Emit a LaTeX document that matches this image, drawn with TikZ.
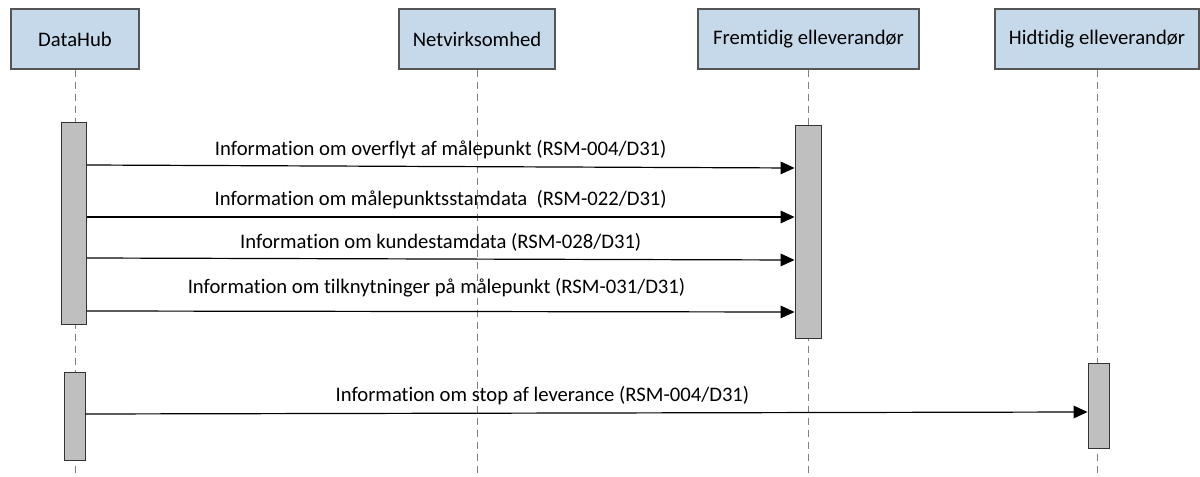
\documentclass[tikz,border=0pt]{standalone}
\usepackage{fontspec}
\setmainfont{Carlito}[Ligatures={NoCommon}]
\usepackage{tikz}
\usetikzlibrary{arrows.meta}

\definecolor{actorfill}{RGB}{198,217,235}
\definecolor{actordraw}{RGB}{85,85,85}
\definecolor{actfill}{RGB}{191,191,191}
\definecolor{lifegray}{RGB}{128,128,128}

\begin{document}
\begin{tikzpicture}[
  x=0.75pt, y=-0.75pt,
  font=\fontsize{15.5}{17}\selectfont,
  actor/.style={rectangle, draw=actordraw, fill=actorfill, line width=0.8pt,
                minimum height=45pt, align=center, inner sep=2pt},
  act/.style={rectangle, draw=black!80, fill=actfill, line width=0.7pt,
              inner sep=0pt},
  life/.style={draw=lifegray, line width=0.75pt, dash pattern=on 5.5pt off 3.5pt},
  msg/.style={-{Triangle[length=10.5pt,width=9.5pt]}, line width=0.9pt},
  lbl/.style={above, inner sep=5.5pt}
]
  \useasboundingbox (0,0) rectangle (1200,477);

  % deltagere
  \node[actor, minimum width=96pt]    (dh) at (75,39)     {DataHub};
  \node[actor, minimum width=117pt]   (nv) at (477,39)    {Netvirksomhed};
  \node[actor, minimum width=165.75pt] (fe) at (808.5,39) {Fremtidig elleverandør};
  \node[actor, minimum width=153pt]   (hi) at (1097,39)   {Hidtidig elleverandør};

  % livslinjer
  \foreach \a in {dh,nv,fe,hi}
    \draw[life] (\a.south) -- (\a.south |- 0,477);

  % aktiveringer
  \node[act, minimum width=18.75pt, minimum height=151.5pt] (dhA) at (74,223)    {};
  \node[act, minimum width=19.5pt,  minimum height=159.75pt] (feA) at (808,231.5) {};
  \node[act, minimum width=15.75pt, minimum height=66pt]    (dhB) at (74.5,416)  {};
  \node[act, minimum width=15.75pt, minimum height=63.75pt] (hiA) at (1098.5,405.5) {};

  % beskeder til fremtidig elleverandør
  \draw[msg] (dhA.east |- 0,165) -- node[lbl] (m1)
    {Information om overflyt af målepunkt (RSM-004/D31)} (feA.west |- 0,168);
  \draw[msg] (dhA.east |- 0,217) -- node[lbl] (m2)
    {Information om målepunktsstamdata\ \ (RSM-022/D31)} (feA.west |- 0,217);
  \draw[msg] (dhA.east |- 0,258) -- node[lbl] (m3)
    {Information om kundestamdata (RSM-028/D31)} (feA.west |- 0,260);
  \draw[msg] (dhA.east |- 0,311) -- node[lbl, yshift=5pt, pos=0.494] (m4)
    {Information om tilknytninger på målepunkt (RSM-031/D31)} (feA.west |- 0,312);

  % besked til hidtidig elleverandør
  \draw[msg] (dhB.east |- 0,414) -- node[lbl, pos=0.456] (m5)
    {Information om stop af leverance (RSM-004/D31)} (hiA.west |- 0,412);
\end{tikzpicture}
\end{document}
